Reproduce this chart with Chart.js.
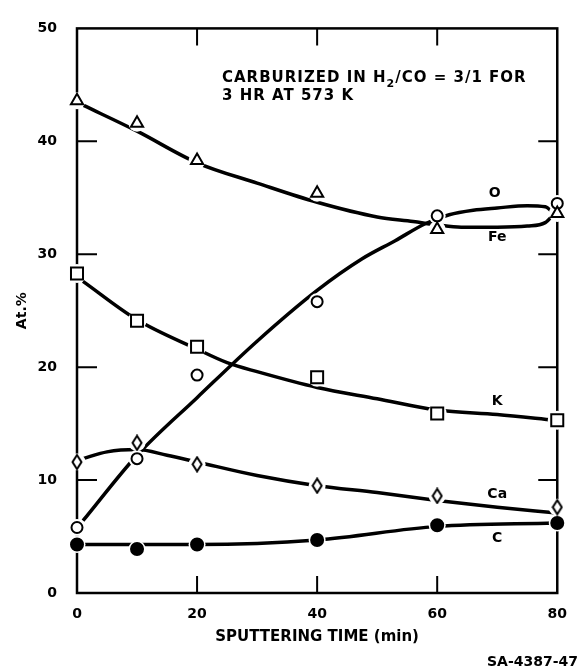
<!DOCTYPE html>
<html>
<head>
<meta charset="utf-8">
<script src="https://cdn.jsdelivr.net/npm/chart.js@4.4.1/dist/chart.umd.min.js"></script>
<style>
  body { margin: 0; background: #fff; }
  canvas { display: block; }
</style>
</head>
<body>
<canvas id="myChart" width="580" height="670"></canvas>
<script>
// sputtering times (min) where each element was measured
const times = [0, 10, 20, 40, 60, 80];

// measured atomic percent per element
const feAt = [43.6, 41.6, 38.3, 35.4, 32.2, 33.6];
const oAt  = [5.8, 11.9, 19.3, 25.8, 33.4, 34.5];
const kAt  = [28.3, 24.1, 21.8, 19.1, 15.9, 15.3];
const caAt = [11.6, 13.3, 11.4, 9.5, 8.6, 7.6];
const cAt  = [4.3, 3.9, 4.3, 4.7, 6.0, 6.2];

// hand drawn trend curves (time, at.%)
const feCurveT = [1, 10, 20, 30, 40, 50, 56, 60, 64, 70, 75, 78, 79.5];
const feCurve  = [43.2, 40.9, 38.1, 36.3, 34.6, 33.3, 32.9, 32.6, 32.4, 32.4, 32.5, 32.8, 33.6];
const oCurveT  = [1, 10, 20, 30, 40, 47.5, 53, 58, 62, 66, 70, 75, 78, 79.5];
const oCurve   = [6.4, 12.2, 17.3, 22.3, 26.8, 29.6, 31.2, 32.7, 33.5, 33.9, 34.1, 34.3, 34.2, 33.6];
const kCurveT  = [1, 10, 20, 25, 30, 40, 50, 60, 70, 79.5];
const kCurve   = [27.6, 24.2, 21.6, 20.4, 19.6, 18.2, 17.2, 16.2, 15.8, 15.3];
const caCurveT = [1, 5, 10, 15, 20, 30, 40, 50, 60, 70, 79.5];
const caCurve  = [11.9, 12.5, 12.7, 12.2, 11.6, 10.4, 9.5, 8.9, 8.2, 7.6, 7.1];
const cCurveT  = [1, 20, 40, 60, 79.5];
const cCurve   = [4.3, 4.3, 4.7, 5.9, 6.2];

const elementNames = ['O', 'Fe', 'K', 'Ca', 'C'];

const FONT = '"DejaVu Sans", "Liberation Sans", Arial, sans-serif';

const pts = (xs, ys) => xs.map((t, i) => ({ x: t, y: ys[i] }));

// narrow diamond marker, the built-in rectRot is too wide
const diamond = document.createElement('canvas');
diamond.width = 12;
diamond.height = 17;
{
  const d = diamond.getContext('2d');
  d.beginPath();
  d.moveTo(6, 1.5);
  d.lineTo(10.5, 8.5);
  d.lineTo(6, 15.5);
  d.lineTo(1.5, 8.5);
  d.closePath();
  d.fillStyle = '#fff';
  d.fill();
  d.lineWidth = 2;
  d.strokeStyle = '#000';
  d.stroke();
}

// order: curves at the back, white halos over them, markers on top
const curve = (xs, ys) => ({
  data: pts(xs, ys),
  showLine: true,
  pointRadius: 0,
  borderColor: '#000',
  borderWidth: 3.5,
  cubicInterpolationMode: 'monotone',
  clip: false,
  order: 3,
});

const halo = (ys, radius) => ({
  data: pts(times, ys),
  showLine: false,
  pointStyle: 'circle',
  pointRadius: radius,
  pointBorderWidth: 0,
  pointBackgroundColor: '#fff',
  clip: false,
  order: 2,
});

const marks = (ys, style, radius, fill) => ({
  data: pts(times, ys),
  showLine: false,
  pointStyle: style,
  pointRadius: radius,
  pointBorderWidth: 2,
  pointBorderColor: '#000',
  pointBackgroundColor: fill,
  clip: false,
  order: 1,
});

// frame with inward ticks on all four sides
const frameTicks = {
  id: 'frameTicks',
  beforeDatasetsDraw(chart) {
    const { ctx, chartArea: a, scales: { x, y } } = chart;
    ctx.save();
    ctx.strokeStyle = '#000';
    ctx.lineWidth = 2.5;
    ctx.strokeRect(a.left, a.top, a.right - a.left, a.bottom - a.top);
    ctx.lineWidth = 2;
    ctx.beginPath();
    x.ticks.map(t => t.value).filter(v => v > x.min && v < x.max).forEach(v => {
      const px = x.getPixelForValue(v);
      ctx.moveTo(px, a.bottom); ctx.lineTo(px, a.bottom - 17);
      ctx.moveTo(px, a.top); ctx.lineTo(px, a.top + 17);
    });
    y.ticks.map(t => t.value).filter(v => v > y.min && v < y.max).forEach(v => {
      const py = y.getPixelForValue(v);
      ctx.moveTo(a.left, py); ctx.lineTo(a.left + 20, py);
      ctx.moveTo(a.right, py); ctx.lineTo(a.right - 19, py);
    });
    ctx.stroke();
    ctx.restore();
  }
};

// axis titles, curve names and the run note
const texts = {
  id: 'texts',
  afterDraw(chart, args, opts) {
    const { ctx, chartArea: a, scales: { x, y } } = chart;
    ctx.save();
    ctx.fillStyle = '#000';

    ctx.font = 'bold 14px ' + FONT;
    ctx.textAlign = 'center';
    ctx.textBaseline = 'middle';
    elementNames.forEach((name, i) => {
      const [t, v] = opts.nameAt[i];
      ctx.fillText(name, x.getPixelForValue(t), y.getPixelForValue(v));
    });

    ctx.font = 'bold 15px ' + FONT;
    ctx.fillText('SPUTTERING TIME (min)', (a.left + a.right) / 2, 637);

    ctx.save();
    ctx.translate(22, (a.top + a.bottom) / 2);
    ctx.rotate(-Math.PI / 2);
    ctx.font = 'bold 14px ' + FONT;
    ctx.fillText('At.%', 0, 0);
    ctx.restore();

    ctx.textAlign = 'right';
    ctx.font = 'bold 14px ' + FONT;
    ctx.fillText('SA-4387-47', 578, 662);

    // note with H2 subscript
    ctx.textAlign = 'left';
    ctx.textBaseline = 'alphabetic';
    ctx.letterSpacing = '1px';
    let cx = 222;
    const line1 = 82;
    ctx.font = 'bold 15px ' + FONT;
    ctx.fillText('CARBURIZED IN H', cx, line1);
    cx += ctx.measureText('CARBURIZED IN H').width;
    ctx.font = 'bold 11px ' + FONT;
    ctx.fillText('2', cx, line1 + 5);
    cx += ctx.measureText('2').width;
    ctx.font = 'bold 15px ' + FONT;
    ctx.fillText('/CO = 3/1 FOR', cx, line1);
    ctx.fillText('3 HR AT 573 K', 222, 100);
    ctx.restore();
  }
};

const ctx = document.getElementById('myChart');

new Chart(ctx, {
  type: 'scatter',
  data: {
    datasets: [
      curve(feCurveT, feCurve),
      curve(oCurveT, oCurve),
      curve(kCurveT, kCurve),
      curve(caCurveT, caCurve),
      curve(cCurveT, cCurve),
      halo(feAt, 8.5),
      halo(oAt, 8.5),
      halo(kAt, 9.5),
      halo(caAt, 8.5),
      halo(cAt, 8.5),
      marks(feAt, 'triangle', 7, '#fff'),
      marks(oAt, 'circle', 5.5, '#fff'),
      marks(kAt, 'rect', 8.5, '#fff'),
      marks(caAt, diamond, 7, '#fff'),
      marks(cAt, 'circle', 6, '#000'),
    ]
  },
  plugins: [frameTicks, texts],
  options: {
    responsive: false,
    animation: false,
    devicePixelRatio: 1,
    layout: { padding: { top: 13, right: 13, left: 0, bottom: 0 } },
    scales: {
      x: {
        type: 'linear',
        min: 0,
        max: 80,
        grid: { display: false, drawTicks: false },
        border: { display: false },
        ticks: {
          stepSize: 20,
          padding: 13,
          color: '#000',
          font: { family: FONT, weight: 'bold', size: 14 }
        },
        afterFit: s => { s.height = 77; }
      },
      y: {
        min: 0,
        max: 50,
        grid: { display: false, drawTicks: false },
        border: { display: false },
        ticks: {
          stepSize: 10,
          padding: 20,
          color: '#000',
          font: { family: FONT, weight: 'bold', size: 14 }
        },
        afterFit: s => { s.width = 77; }
      }
    },
    plugins: {
      legend: { display: false },
      tooltip: { enabled: false },
      texts: {
        nameAt: [[69.6, 35.4], [70, 31.5], [70, 17.0], [70, 8.7], [70, 4.8]]
      }
    }
  }
});
</script>
</body>
</html>
